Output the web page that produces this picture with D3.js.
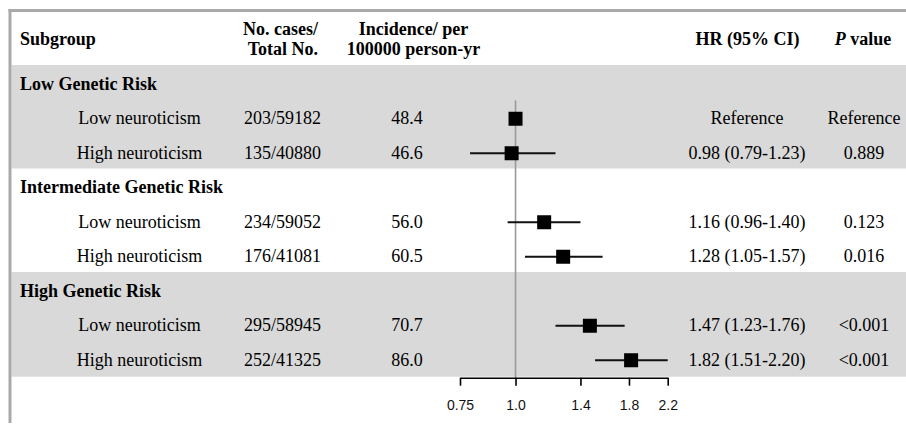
<!DOCTYPE html>
<html>
<head>
<meta charset="utf-8">
<script src="https://cdn.jsdelivr.net/npm/d3@7"></script>
<style>
  html, body { margin: 0; padding: 0; background: #fff; }
  svg { display: block; }
</style>
</head>
<body>
<svg id="chart" width="906" height="425"></svg>
<script>
// ---------- data ----------
const groups = ["Low Genetic Risk", "Intermediate Genetic Risk", "High Genetic Risk"];
const subgroups = ["Low neuroticism", "High neuroticism"];
const cases = ["203/59182", "135/40880", "234/59052", "176/41081", "295/58945", "252/41325"];
const incidence = ["48.4", "46.6", "56.0", "60.5", "70.7", "86.0"];
const hr = [1.00, 0.98, 1.16, 1.28, 1.47, 1.82];
const lower = [null, 0.79, 0.96, 1.05, 1.23, 1.51];
const upper = [null, 1.23, 1.40, 1.57, 1.76, 2.20];
const hrText = ["Reference", "0.98 (0.79-1.23)", "1.16 (0.96-1.40)", "1.28 (1.05-1.57)", "1.47 (1.23-1.76)", "1.82 (1.51-2.20)"];
const pText = ["Reference", "0.889", "0.123", "0.016", "<0.001", "<0.001"];
const tickValues = [0.75, 1.0, 1.4, 1.8, 2.2];
const tickLabels = ["0.75", "1.0", "1.4", "1.8", "2.2"];

// ---------- layout ----------
const svg = d3.select("#chart");
const W = 906, H = 425;
const serif = "'Liberation Serif', 'Times New Roman', Times, serif";
const sans = "'Liberation Sans', Arial, Helvetica, sans-serif";
const fs = 18;

const rows = [];
groups.forEach((g, gi) => {
  rows.push({ type: "group", label: g, gi });
  subgroups.forEach((s, si) => {
    rows.push({ type: "item", label: s, gi, k: gi * 2 + si });
  });
});

const y = d3.scaleBand().domain(d3.range(rows.length)).range([65, 375.5]).paddingInner(0).paddingOuter(0);
const yc = i => y(i) + y.bandwidth() / 2 + 2;

const x = d3.scaleLog().domain([0.75, 2.2]).range([460, 667.7]);
const axisY = 377.7;

// background bands (groups 0 and 2)
groups.forEach((g, gi) => {
  if (gi % 2 === 0) {
    const first = gi * 3;
    const top = y(first);
    const bottom = (gi === groups.length - 1) ? axisY - 1 : y(first) + y.bandwidth() * 3;
    svg.append("rect")
      .attr("x", 11.5).attr("width", W - 11.5)
      .attr("y", top).attr("height", bottom - top)
      .attr("fill", "#d9d9d9");
  }
});

// frame (top + left)
svg.append("rect").attr("x", 8.5).attr("y", 9).attr("width", W - 8.5).attr("height", 3).attr("fill", "#a9a9a9");
svg.append("rect").attr("x", 8.5).attr("y", 9).attr("width", 3).attr("height", 414).attr("fill", "#a9a9a9");

// ---------- header ----------
const hdr = svg.append("g").attr("font-family", serif).attr("font-size", fs).attr("font-weight", "bold").attr("fill", "#000");
hdr.append("text").attr("x", 20).attr("y", 45).text("Subgroup");
hdr.append("text").attr("x", 318).attr("y", 35).attr("text-anchor", "end").text("No. cases/");
hdr.append("text").attr("x", 318).attr("y", 54.5).attr("text-anchor", "end").text("Total No.");
hdr.append("text").attr("x", 413.5).attr("y", 35).attr("text-anchor", "middle").text("Incidence/ per");
hdr.append("text").attr("x", 413.5).attr("y", 54.5).attr("text-anchor", "middle").text("100000 person-yr");
hdr.append("text").attr("x", 747.5).attr("y", 45).attr("text-anchor", "middle").text("HR (95% CI)");
const pv = hdr.append("text").attr("x", 863).attr("y", 45).attr("text-anchor", "middle");
pv.append("tspan").attr("font-style", "italic").text("P");
pv.append("tspan").text(" value");

// ---------- table text ----------
const body = svg.append("g").attr("font-family", serif).attr("font-size", fs).attr("fill", "#000");
rows.forEach((r, i) => {
  const by = yc(i) + 5.7;
  if (r.type === "group") {
    body.append("text").attr("x", 20).attr("y", by).attr("font-weight", "bold").text(r.label);
  } else {
    body.append("text").attr("x", 139.5).attr("y", by).attr("text-anchor", "middle").text(r.label);
    body.append("text").attr("x", 282.5).attr("y", by).attr("text-anchor", "middle").text(cases[r.k]);
    body.append("text").attr("x", 407).attr("y", by).attr("text-anchor", "middle").text(incidence[r.k]);
    body.append("text").attr("x", 747).attr("y", by).attr("text-anchor", "middle").text(hrText[r.k]);
    body.append("text").attr("x", 864).attr("y", by).attr("text-anchor", "middle").text(pText[r.k]);
  }
});

// ---------- forest plot ----------
svg.append("line")
  .attr("x1", x(1)).attr("x2", x(1))
  .attr("y1", y(1) + 1).attr("y2", axisY)
  .attr("stroke", "#999").attr("stroke-width", 1.6);

const items = rows.map((r, i) => ({ r, i })).filter(d => d.r.type === "item");
const plot = svg.append("g");
items.forEach(({ r, i }) => {
  const k = r.k;
  if (lower[k] != null) {
    plot.append("line")
      .attr("x1", x(lower[k])).attr("x2", x(upper[k]))
      .attr("y1", yc(i)).attr("y2", yc(i))
      .attr("stroke", "#111").attr("stroke-width", 2);
  }
  const s = 14;
  plot.append("rect")
    .attr("x", x(hr[k]) - s / 2).attr("y", yc(i) - s / 2)
    .attr("width", s).attr("height", s)
    .attr("fill", "#000");
});

// axis
const axis = d3.axisBottom(x)
  .tickValues(tickValues)
  .tickFormat((d, i) => tickLabels[i])
  .tickSizeOuter(0)
  .tickSizeInner(8)
  .tickPadding(14);
const ag = svg.append("g").attr("transform", `translate(0,${axisY})`).call(axis);
ag.select(".domain").attr("stroke", "#000").attr("stroke-width", 1.6);
ag.selectAll(".tick line").attr("stroke", "#000").attr("stroke-width", 1.6);
ag.selectAll(".tick text").attr("font-family", sans).attr("font-size", 14).attr("fill", "#111");
</script>
</body>
</html>
